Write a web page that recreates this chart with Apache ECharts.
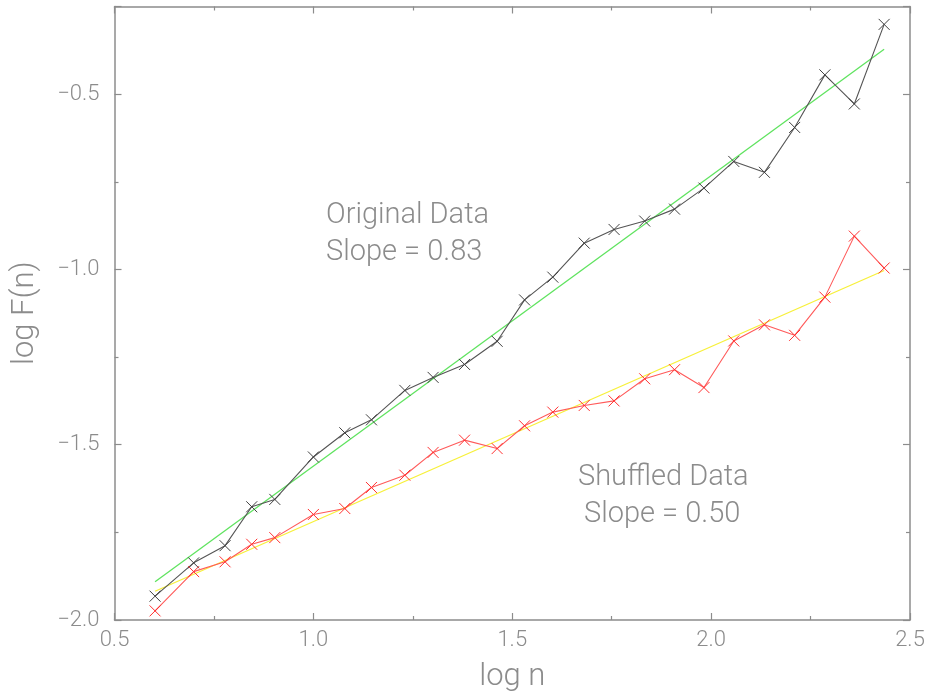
<!DOCTYPE html>
<html>
<head>
<meta charset="utf-8">
<script src="https://cdn.jsdelivr.net/npm/echarts@6/dist/echarts.min.js"></script>
<style>
html,body{margin:0;padding:0;background:#fff;}
#chart{width:928px;height:698px;}
</style>
</head>
<body>
<div id="chart"></div>
<script>
// log n values
var logN = [0.602, 0.699, 0.778, 0.845, 0.903, 1.000, 1.079, 1.146, 1.230, 1.301, 1.380, 1.462, 1.531, 1.602, 1.681, 1.756, 1.833, 1.908, 1.982, 2.057, 2.134, 2.210, 2.286, 2.360, 2.435];
// log F(n), original data
var originalF = [-1.932, -1.837, -1.788, -1.677, -1.656, -1.535, -1.466, -1.429, -1.345, -1.308, -1.271, -1.205, -1.087, -1.022, -0.925, -0.886, -0.862, -0.828, -0.768, -0.692, -0.723, -0.595, -0.445, -0.528, -0.301];
// log F(n), shuffled data
var shuffledF = [-1.974, -1.862, -1.834, -1.784, -1.765, -1.699, -1.682, -1.622, -1.587, -1.522, -1.487, -1.511, -1.446, -1.407, -1.388, -1.375, -1.312, -1.286, -1.337, -1.204, -1.158, -1.188, -1.079, -0.905, -0.996];
// fitted lines
var fitX = [0.602, 2.435];
var originalFit = [-1.891, -0.372];
var shuffledFit = [-1.918, -1.003];
// annotations
var annotOriginal = ['Original Data', 'Slope = 0.83'];
var annotShuffled = ['Shuffled Data', 'Slope = 0.50'];
// axis titles
var xTitle = 'log n';
var yTitle = 'log F(n)';

function pairs(xs, ys){ return xs.map(function(x,i){ return [x, ys[i]]; }); }

var FONT = 'Roboto, "Liberation Sans", sans-serif';
var GRAY = '#8c8c8c';
var XMARK = 'path://M0,0L10,10M10,0L0,10';

function fmt(v){
  if (Math.abs(v*2 - Math.round(v*2)) > 1e-6) return '';
  return v.toFixed(1).replace('-', '\u2212');
}

function axisBase(extra){
  var a = {
    type: 'value',
    axisLine: {show: true, onZero: false, lineStyle: {color: GRAY, width: 1.5}},
    axisTick: {show: true, inside: true, length: 7, lineStyle: {color: GRAY, width: 1.2}},
    minorTick: {show: true, splitNumber: 2, length: 4, lineStyle: {color: GRAY, width: 1.2}},
    splitLine: {show: false},
    minorSplitLine: {show: false}
  };
  for (var k in extra) a[k] = extra[k];
  return a;
}

var TXT = {fill: GRAY, fontSize: 29, fontFamily: FONT, fontWeight: 300, verticalAlign: 'middle'};
function txt(x, y, s){
  var st = {text: s};
  for (var k in TXT) st[k] = TXT[k];
  return {type: 'text', x: x, y: y, style: st};
}

var chart = echarts.init(document.getElementById('chart'), null, {renderer: 'canvas'});
var option = {
  animation: false,
  backgroundColor: '#ffffff',
  grid: {left: 114.5, right: 18, top: 6.5, bottom: 76, containLabel: false},
  xAxis: [
    axisBase({position: 'bottom', min: 0.5, max: 2.5, interval: 0.5,
      name: xTitle, nameLocation: 'middle', nameGap: 42,
      nameTextStyle: {color: GRAY, fontSize: 31, fontFamily: FONT, fontWeight: 300},
      axisLabel: {show: true, margin: 9, color: GRAY, fontSize: 22, fontFamily: FONT, fontWeight: 300, formatter: fmt}}),
    axisBase({position: 'top', min: 0.5, max: 2.5, interval: 0.5, axisLabel: {show: false}})
  ],
  yAxis: [
    axisBase({position: 'left', min: -2.0, max: -0.25, interval: 0.5,
      name: yTitle, nameLocation: 'middle', nameGap: 74, nameRotate: 90,
      nameTextStyle: {color: GRAY, fontSize: 31, fontFamily: FONT, fontWeight: 300},
      axisLabel: {show: true, margin: 15, color: GRAY, fontSize: 22, fontFamily: FONT, fontWeight: 300, formatter: fmt, showMaxLabel: false}}),
    axisBase({position: 'right', min: -2.0, max: -0.25, interval: 0.5, axisLabel: {show: false}})
  ],
  series: [
    {
      type: 'line', data: pairs(fitX, originalFit), symbol: 'none', z: 3,
      lineStyle: {color: '#5fe35f', width: 1.3}, itemStyle: {color: '#5fe35f'}
    },
    {
      type: 'line', data: pairs(fitX, shuffledFit), symbol: 'none', z: 3,
      lineStyle: {color: '#f7f03a', width: 1.3}, itemStyle: {color: '#f7f03a'}
    },
    {
      type: 'line', data: pairs(logN, originalF), z: 4,
      symbol: XMARK, symbolSize: 11, showSymbol: true,
      lineStyle: {color: '#555555', width: 1.1},
      itemStyle: {color: 'none', borderColor: '#404040', borderWidth: 1}
    },
    {
      type: 'line', data: pairs(logN, shuffledF), z: 4,
      symbol: XMARK, symbolSize: 11, showSymbol: true,
      lineStyle: {color: '#ff5a5a', width: 1.1},
      itemStyle: {color: 'none', borderColor: '#ff3030', borderWidth: 1}
    }
  ],
  graphic: [
    txt(326, 216, annotOriginal[0]),
    txt(326, 253, annotOriginal[1]),
    txt(578, 478, annotShuffled[0]),
    txt(584, 515, annotShuffled[1])
  ]
};
chart.setOption(option);
</script>
</body>
</html>
